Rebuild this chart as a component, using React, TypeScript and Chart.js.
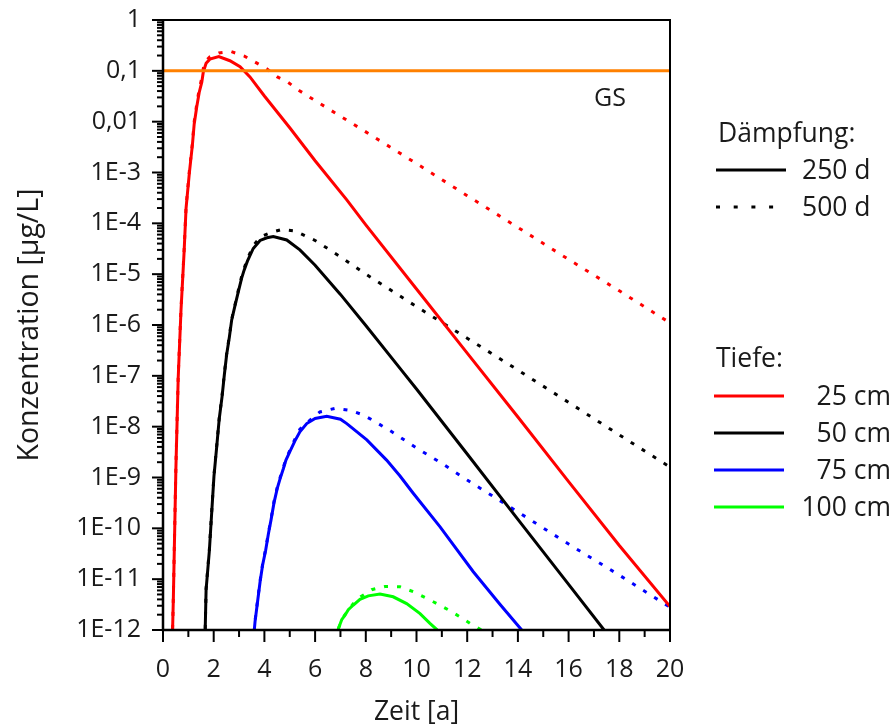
import React, { useEffect, useRef } from 'react';
import { Chart, registerables } from 'chart.js';

Chart.register(...registerables);

// ---------- axis data ----------
const xTicks = [0, 2, 4, 6, 8, 10, 12, 14, 16, 18, 20];
const xMinorTicks = [1, 3, 5, 7, 9, 11, 13, 15, 17, 19];
const yTicks = [1e-12, 1e-11, 1e-10, 1e-9, 1e-8, 1e-7, 1e-6, 1e-5, 1e-4, 1e-3, 1e-2, 1e-1, 1];
const yTickLabels = ['1E-12', '1E-11', '1E-10', '1E-9', '1E-8', '1E-7', '1E-6', '1E-5', '1E-4', '1E-3', '0,01', '0,1', '1'];
const yMinorFactors = [2, 3, 4, 5, 6, 7, 8, 9];

const xTitle = 'Zeit [a]';
const yTitle = 'Konzentration [µg/L]';

// ---------- limit value (GS) ----------
const gsLabel = 'GS';
const gsLine: [number, number][] = [[0, 0.1], [20, 0.1]];

// ---------- legend ----------
const dampingTitle = 'Dämpfung:';
const dampingLabels = ['250 d', '500 d'];
const depthTitle = 'Tiefe:';
const depthLabels = ['25 cm', '50 cm', '75 cm', '100 cm'];
const depthColors = ['#ff0000', '#000000', '#0000ff', '#00ff00'];
const gsColor = '#ff8000';

// ---------- series: [time in years, concentration in µg/L] ----------
const depth25_250d: [number, number][] = [
  [0.33, 1e-13], [0.41, 4.5e-12], [0.51, 1.6e-9], [0.60, 9.1e-8], [0.71, 1.95e-6], [0.83, 2.6e-5],
  [0.91, 2.0e-4], [1.04, 9.8e-4], [1.16, 3.5e-3], [1.23, 8.9e-3], [1.33, 1.95e-2], [1.43, 3.8e-2],
  [1.53, 6.0e-2], [1.59, 9.5e-2], [1.70, 0.141], [1.85, 0.17], [2.2, 0.19], [2.64, 0.158],
  [3.04, 0.12], [3.43, 0.076], [4, 0.032], [5, 7.6e-3], [6, 1.7e-3], [7.25, 2.9e-4], [8, 9.3e-5],
  [10, 5.1e-6], [12, 2.8e-7], [14, 1.55e-8], [16, 8.3e-10], [18, 4.6e-11], [20, 2.9e-12],
];
const depth25_500d: [number, number][] = [
  [0.33, 1e-13], [0.41, 5.0e-12], [0.51, 1.8e-9], [0.60, 1.0e-7], [0.71, 2.1e-6], [0.83, 2.8e-5],
  [0.91, 2.1e-4], [1.04, 1.07e-3], [1.16, 3.8e-3], [1.23, 1.0e-2], [1.33, 2.2e-2], [1.43, 4.4e-2],
  [1.53, 7.2e-2], [1.59, 0.112], [1.70, 0.158], [1.85, 0.19], [2.2, 0.224], [2.68, 0.24],
  [3.21, 0.195], [3.67, 0.145], [4.09, 0.11], [4.51, 0.076], [4.94, 0.059], [5.37, 0.041],
  [6, 0.026], [8, 6.3e-3], [10, 1.5e-3], [12, 3.5e-4], [14, 8.3e-5], [16, 1.95e-5], [18, 4.7e-6], [20, 1.1e-6],
];
const depth50_250d: [number, number][] = [
  [1.62, 1e-13], [1.70, 6.2e-12], [1.83, 3.7e-11], [1.92, 2.0e-10], [2.01, 1.05e-9], [2.12, 4.1e-9],
  [2.22, 1.45e-8], [2.33, 3.9e-8], [2.42, 1.05e-7], [2.51, 2.6e-7], [2.62, 5.9e-7], [2.71, 1.26e-6],
  [2.84, 2.4e-6], [2.97, 4.5e-6], [3.10, 8.3e-6], [3.2, 1.2e-5], [3.33, 1.8e-5], [3.56, 3.2e-5],
  [3.83, 4.6e-5], [4.1, 5.2e-5], [4.35, 5.5e-5], [4.88, 4.7e-5], [5.4, 3.0e-5], [6, 1.5e-5],
  [7, 4.0e-6], [8, 9.8e-7], [9.35, 1.4e-7], [10, 5.5e-8], [12, 2.9e-9], [14, 1.5e-10], [16, 7.9e-12],
  [17.4, 1.0e-12], [18, 4e-13],
];
const depth50_500d: [number, number][] = [
  [1.62, 1e-13], [1.70, 6.5e-12], [1.83, 3.9e-11], [1.92, 2.1e-10], [2.01, 1.1e-9], [2.12, 4.3e-9],
  [2.22, 1.5e-8], [2.33, 4.1e-8], [2.42, 1.1e-7], [2.51, 2.7e-7], [2.62, 6.2e-7], [2.71, 1.3e-6],
  [2.84, 2.5e-6], [2.97, 4.8e-6], [3.10, 8.9e-6], [3.2, 1.3e-5], [3.33, 2.0e-5], [3.56, 3.6e-5],
  [3.83, 5.4e-5], [4.26, 6.6e-5], [4.7, 7.6e-5], [5.2, 7.1e-5], [6, 4.6e-5], [7, 2.2e-5], [8, 1.0e-5],
  [10, 2.3e-6], [12, 5.5e-7], [14, 1.3e-7], [16, 3.0e-8], [18, 6.9e-9], [20, 1.6e-9],
];
const depth75_250d: [number, number][] = [
  [3.55, 5e-13], [3.63, 1.45e-12], [3.73, 3.6e-12], [3.83, 8.9e-12], [3.93, 1.9e-11], [4.05, 3.7e-11],
  [4.16, 7.9e-11], [4.26, 1.45e-10], [4.38, 3.2e-10], [4.51, 6.2e-10], [4.62, 9.5e-10], [4.75, 1.5e-9],
  [4.85, 2.2e-9], [5.0, 3.2e-9], [5.2, 5.2e-9], [5.4, 7.9e-9], [5.67, 1.15e-8], [6.0, 1.45e-8],
  [6.46, 1.6e-8], [7.0, 1.4e-8], [7.25, 1.15e-8], [8.04, 5.5e-9], [8.82, 2.2e-9], [9.35, 1.07e-9],
  [9.87, 4.9e-10], [10.93, 1.07e-10], [12.24, 1.4e-11], [13.29, 3.2e-12], [14.15, 1.0e-12], [14.5, 6e-13],
];
const depth75_500d: [number, number][] = [
  [3.55, 5e-13], [3.63, 1.5e-12], [3.73, 3.8e-12], [3.83, 9.3e-12], [3.93, 2.0e-11], [4.05, 3.9e-11],
  [4.16, 8.3e-11], [4.26, 1.5e-10], [4.38, 3.4e-10], [4.51, 6.5e-10], [4.62, 1.0e-9], [4.75, 1.6e-9],
  [4.85, 2.3e-9], [5.0, 3.4e-9], [5.2, 5.6e-9], [5.4, 8.9e-9], [5.8, 1.35e-8], [6.19, 1.95e-8],
  [6.79, 2.3e-8], [7.38, 2.1e-8], [7.9, 1.7e-8], [8.36, 1.26e-8], [9.0, 8.1e-9], [10, 3.8e-9],
  [11, 1.9e-9], [12, 8.9e-10], [14, 2.1e-10], [16, 4.9e-11], [18, 1.2e-11], [20, 2.8e-12],
];
const depth100_250d: [number, number][] = [
  [6.85, 6e-13], [6.92, 1.07e-12], [7.05, 1.6e-12], [7.18, 1.95e-12], [7.31, 2.5e-12], [7.51, 3.1e-12],
  [7.77, 4.0e-12], [8.1, 4.7e-12], [8.56, 5.1e-12], [9.08, 4.5e-12], [9.61, 3.3e-12], [10.14, 2.1e-12],
  [10.53, 1.35e-12], [10.8, 1.02e-12], [11.0, 7e-13],
];
const depth100_500d: [number, number][] = [
  [6.85, 6e-13], [6.92, 1.07e-12], [7.05, 1.6e-12], [7.18, 2.0e-12], [7.31, 2.5e-12], [7.51, 3.3e-12],
  [7.8, 4.5e-12], [8.23, 6.2e-12], [8.76, 7.2e-12], [9.35, 7.1e-12], [9.9, 5.6e-12], [10.4, 4.2e-12],
  [10.86, 3.2e-12], [11.25, 2.5e-12], [11.68, 1.86e-12], [12.11, 1.35e-12], [12.57, 1.0e-12], [13.0, 7e-13],
];

const series250d = [depth25_250d, depth50_250d, depth75_250d, depth100_250d];
const series500d = [depth25_500d, depth50_500d, depth75_500d, depth100_500d];

const FONT = '"Open Sans", "Noto Sans", sans-serif';
const TEXT = '#1a1a1a';
const DOT_DASH = [4, 9];

const toXY = (arr: [number, number][]) => arr.map(([x, y]) => ({ x, y }));

const decorPlugin = {
  id: 'decor',
  afterDraw(chart: any) {
    const { ctx, chartArea: a, scales } = chart;
    const xs = scales.x;
    const ys = scales.y;
    ctx.save();
    ctx.strokeStyle = '#000';
    ctx.lineCap = 'butt';

    // frame
    ctx.lineWidth = 2;
    ctx.beginPath();
    ctx.moveTo(a.left, a.top);
    ctx.lineTo(a.right, a.top);
    ctx.lineTo(a.right, a.bottom);
    ctx.stroke();
    ctx.lineWidth = 2.5;
    ctx.beginPath();
    ctx.moveTo(a.left, a.top - 1);
    ctx.lineTo(a.left, a.bottom);
    ctx.lineTo(a.right + 1, a.bottom);
    ctx.stroke();

    // y ticks
    ctx.lineWidth = 2;
    yTicks.forEach((v, i) => {
      const p = ys.getPixelForValue(v);
      ctx.beginPath();
      ctx.moveTo(a.left - 11, p);
      ctx.lineTo(a.left, p);
      ctx.stroke();
      if (i < yTicks.length - 1) {
        yMinorFactors.forEach((f) => {
          const q = ys.getPixelForValue(v * f);
          ctx.beginPath();
          ctx.moveTo(a.left - 6, q);
          ctx.lineTo(a.left, q);
          ctx.stroke();
        });
      }
    });
    // x ticks
    xTicks.forEach((v) => {
      const p = xs.getPixelForValue(v);
      ctx.beginPath();
      ctx.moveTo(p, a.bottom);
      ctx.lineTo(p, a.bottom + 12);
      ctx.stroke();
    });
    xMinorTicks.forEach((v) => {
      const p = xs.getPixelForValue(v);
      ctx.beginPath();
      ctx.moveTo(p, a.bottom);
      ctx.lineTo(p, a.bottom + 7);
      ctx.stroke();
    });

    // GS label
    ctx.fillStyle = TEXT;
    ctx.font = `25px ${FONT}`;
    ctx.textAlign = 'center';
    ctx.textBaseline = 'middle';
    ctx.fillText(gsLabel, a.right - 60, ys.getPixelForValue(gsLine[0][1]) + 28);

    // legend
    const lx = a.right + 46;
    ctx.textAlign = 'left';
    ctx.font = `26.5px ${FONT}`;
    ctx.fillText(dampingTitle, lx + 2, 134);
    dampingLabels.forEach((lab, i) => {
      const y = 170 + i * 37;
      ctx.strokeStyle = '#000';
      ctx.lineWidth = 3;
      ctx.setLineDash(i === 0 ? [] : [4, 13.7]);
      ctx.beginPath();
      ctx.moveTo(lx, y);
      ctx.lineTo(lx + 70, y);
      ctx.stroke();
      ctx.setLineDash([]);
      ctx.fillText(lab, lx + 86, y + 1);
    });
    ctx.fillText(depthTitle, lx, 359);
    depthLabels.forEach((lab, i) => {
      const y = 396 + i * 37;
      ctx.strokeStyle = depthColors[i];
      ctx.lineWidth = 3;
      ctx.beginPath();
      ctx.moveTo(lx - 2, y);
      ctx.lineTo(lx + 68, y);
      ctx.stroke();
      ctx.textAlign = 'right';
      ctx.fillText(lab, 891, y + 1);
      ctx.textAlign = 'left';
    });
    ctx.restore();
  },
};

export default function App() {
  const ref = useRef<HTMLCanvasElement>(null);
  useEffect(() => {
    const datasets: any[] = [
      {
        label: 'GS',
        data: toXY(gsLine),
        borderColor: gsColor,
        borderWidth: 3,
        pointRadius: 0,
      },
    ];
    series250d.forEach((s, i) =>
      datasets.push({
        label: `${depthLabels[i]} ${dampingLabels[0]}`,
        data: toXY(s),
        borderColor: depthColors[i],
        borderWidth: 3,
        pointRadius: 0,
      })
    );
    series500d.forEach((s, i) =>
      datasets.push({
        label: `${depthLabels[i]} ${dampingLabels[1]}`,
        data: toXY(s),
        borderColor: depthColors[i],
        borderWidth: 3,
        borderDash: DOT_DASH,
        pointRadius: 0,
      })
    );

    const chart = new Chart(ref.current as HTMLCanvasElement, {
      type: 'line',
      data: { datasets },
      options: {
        animation: false,
        responsive: false,
        devicePixelRatio: 1,
        layout: { padding: { left: 0, top: 20, right: 224, bottom: 0 } },
        plugins: { legend: { display: false }, tooltip: { enabled: false } },
        elements: { line: { tension: 0 } },
        scales: {
          x: {
            type: 'linear',
            min: 0,
            max: 20,
            afterBuildTicks: (scale: any) => {
              scale.ticks = xTicks.map((v) => ({ value: v }));
            },
            afterFit: (scale: any) => {
              scale.height = 98;
              scale.paddingLeft = 0;
              scale.paddingRight = 0;
            },
            grid: { display: false, drawTicks: false },
            border: { display: false },
            ticks: {
              autoSkip: false,
              maxRotation: 0,
              padding: 25,
              color: TEXT,
              font: { family: FONT, size: 25 },
              callback: (v: any) => String(v),
            },
            title: {
              display: true,
              text: xTitle,
              color: TEXT,
              font: { family: FONT, size: 26.5 },
              padding: { top: 0, bottom: 0 },
            },
          },
          y: {
            type: 'logarithmic',
            min: 1e-12,
            max: 1,
            afterBuildTicks: (scale: any) => {
              scale.ticks = yTicks.map((v) => ({ value: v }));
            },
            afterFit: (scale: any) => {
              scale.width = 163;
              scale.paddingTop = 0;
              scale.paddingBottom = 0;
            },
            grid: { display: false, drawTicks: false },
            border: { display: false },
            ticks: {
              autoSkip: false,
              padding: 22,
              color: TEXT,
              font: { family: FONT, size: 25 },
              callback: (_v: any, i: number) => yTickLabels[i],
            },
            title: {
              display: true,
              text: yTitle,
              color: TEXT,
              font: { family: FONT, size: 28.5 },
              padding: { top: 13, bottom: 0 },
            },
          },
        },
      },
      plugins: [decorPlugin],
    } as any);
    return () => chart.destroy();
  }, []);

  return (
    <div style={{ position: 'fixed', left: 0, top: 0, width: 894, height: 728, background: '#fff' }}>
      <canvas ref={ref} width={894} height={728} style={{ display: 'block', width: 894, height: 728 }} />
    </div>
  );
}
